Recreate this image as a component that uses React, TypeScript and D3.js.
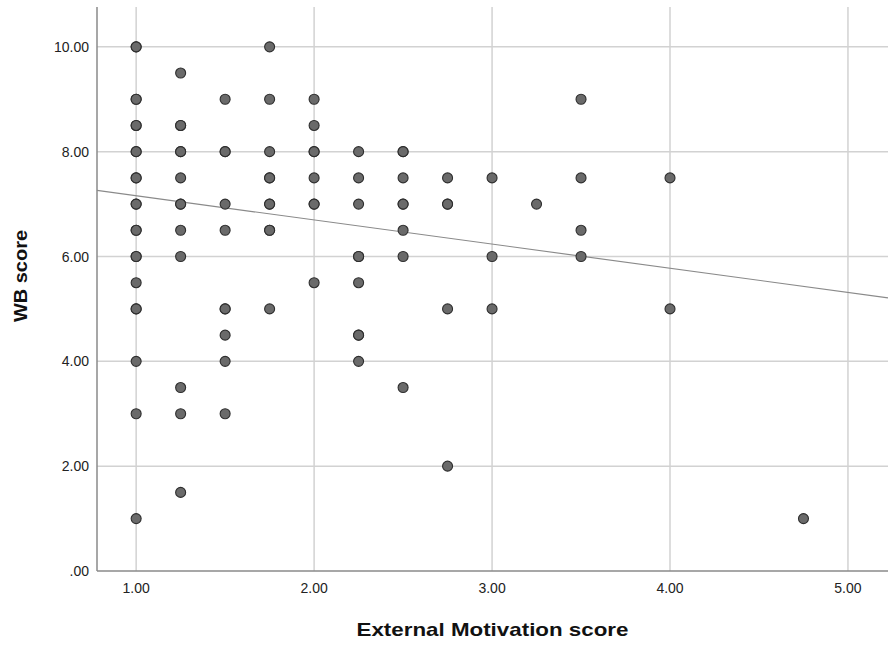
import React from 'react';
import * as d3 from 'd3';

// External Motivation score levels and the WB scores observed at each level
// (repeated values = overlapping cases, they show darker in the original)
const xLevels = [1, 1.25, 1.5, 1.75, 2, 2.25, 2.5, 2.75, 3, 3.25, 3.5, 4, 4.75];
const wbByLevel = [
  [10, 10, 9, 9, 8.5, 8.5, 8, 8, 7.5, 7.5, 7, 7, 6.5, 6.5, 6, 6, 5.5, 5, 5, 4, 3, 1],
  [9.5, 8.5, 8.5, 8, 8, 7.5, 7, 7, 6.5, 6, 3.5, 3, 1.5],
  [9, 8, 8, 7, 6.5, 5, 5, 4.5, 4, 3],
  [10, 9, 8, 7.5, 7.5, 7, 7, 6.5, 6.5, 5],
  [9, 8.5, 8, 8, 7.5, 7, 7, 5.5],
  [8, 7.5, 7, 6, 6, 5.5, 4.5, 4.5, 4],
  [8, 8, 7.5, 7, 7, 6.5, 6, 3.5],
  [7.5, 7, 7, 5, 2],
  [7.5, 6, 5],
  [7],
  [9, 7.5, 6.5, 6],
  [7.5, 5],
  [1],
];

const xTicks = [1, 2, 3, 4, 5];
const yTicks = [0, 2, 4, 6, 8, 10];

// linear fit line
const fitIntercept = 7.62;
const fitSlope = -0.461;

const W = 891;
const H = 646;
const margin = { top: 7, right: 3, bottom: 75, left: 97 };
const FONT = '"Liberation Sans", Arial, sans-serif';

const fmt = (v: number) => (v === 0 ? '.00' : d3.format('.2f')(v));

export default function App() {
  const x = d3.scaleLinear().domain([0.78, 5.225]).range([margin.left, W - margin.right]);
  const y = d3.scaleLinear().domain([0, 10.76]).range([H - margin.bottom, margin.top]);

  const points: { x: number; y: number }[] = [];
  xLevels.forEach((lv, i) => {
    wbByLevel[i].forEach((v) => points.push({ x: lv, y: v }));
  });

  const [x0, x1] = x.domain();
  const fitLine = d3
    .line<number>()
    .x((d) => x(d))
    .y((d) => y(fitIntercept + fitSlope * d))([x0, x1]);

  const left = margin.left;
  const right = W - margin.right;
  const top = margin.top;
  const bottom = H - margin.bottom;

  return (
    <svg
      width={W}
      height={H}
      style={{ position: 'absolute', left: 0, top: 0, background: '#fff' }}
    >
      {/* grid */}
      {yTicks.filter((t) => t > 0).map((t) => (
        <line key={'gy' + t} x1={left} x2={right} y1={y(t)} y2={y(t)} stroke="#d2d2d2" strokeWidth={1.5} />
      ))}
      {xTicks.map((t) => (
        <line key={'gx' + t} x1={x(t)} x2={x(t)} y1={top} y2={bottom} stroke="#d2d2d2" strokeWidth={1.5} />
      ))}

      {/* axes */}
      <line x1={left} x2={left} y1={top} y2={bottom} stroke="#8a8a8a" strokeWidth={1.5} />
      <line x1={left} x2={right} y1={bottom} y2={bottom} stroke="#8a8a8a" strokeWidth={1.5} />

      {/* tick labels */}
      {yTicks.map((t) => (
        <text key={'ly' + t} x={left - 8} y={y(t) + 5} textAnchor="end" fontFamily={FONT} fontSize={14} fill="#222">
          {fmt(t)}
        </text>
      ))}
      {xTicks.map((t) => (
        <text key={'lx' + t} x={x(t)} y={bottom + 22} textAnchor="middle" fontFamily={FONT} fontSize={14} fill="#222">
          {fmt(t)}
        </text>
      ))}

      {/* fit line */}
      <path d={fitLine || ''} fill="none" stroke="#8a8a8a" strokeWidth={1.2} />

      {/* points */}
      {points.map((p, i) => (
        <circle key={i} cx={x(p.x)} cy={y(p.y)} r={5} fill="#6a6a6a" stroke="#2e2e2e" strokeWidth={1.1} />
      ))}

      {/* axis titles */}
      <text
        x={492.5}
        y={636}
        textAnchor="middle"
        fontFamily={FONT}
        fontSize={19}
        fontWeight="bold"
        fill="#111"
        textLength={272}
        lengthAdjust="spacingAndGlyphs"
      >
        External Motivation score
      </text>
      <text
        transform={`translate(27, 276) rotate(-90)`}
        textAnchor="middle"
        fontFamily={FONT}
        fontSize={19}
        fontWeight="bold"
        fill="#111"
        textLength={92}
        lengthAdjust="spacingAndGlyphs"
      >
        WB score
      </text>
    </svg>
  );
}
